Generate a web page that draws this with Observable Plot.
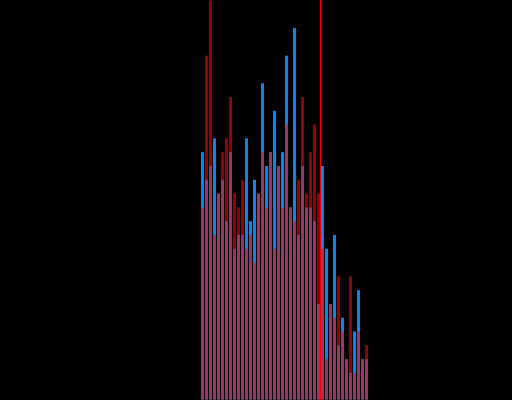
<!DOCTYPE html>
<html>
<head>
<meta charset="utf-8">
<script src="https://cdn.jsdelivr.net/npm/d3@7"></script>
<script src="https://cdn.jsdelivr.net/npm/@observablehq/plot@0.6"></script>
<style>
  html, body { margin: 0; padding: 0; background: #000; overflow: hidden; }
  #chart svg { display: block; }
</style>
</head>
<body>
<div id="chart"></div>
<script>
// bin index (left edge) of each histogram bar
const bins = [0, 1, 2, 3, 4, 5, 6, 7, 8, 9, 10, 11, 12, 13, 14, 15, 16, 17, 18, 19, 20,
              21, 22, 23, 24, 25, 26, 27, 28, 29, 30, 31, 32, 33, 34, 35, 36, 37, 38, 39, 40, 41];
// counts per bin, blue series
const blueCounts = [18, 16, 17, 19, 15, 16, 13, 18, 11, 12, 12, 19, 13, 16, 15, 23, 17, 18, 21, 17, 18,
                    25, 14, 27, 12, 17, 14, 14, 13, 7, 17, 11, 7, 12, 4, 6, 3, 2, 5, 8, 3, 3];
// counts per bin, red series
const redCounts = [14, 25, 29, 12, 15, 18, 19, 22, 15, 14, 16, 11, 12, 10, 15, 18, 14, 18, 11, 17, 14,
                   20, 14, 13, 16, 22, 15, 18, 20, 15, 11, 3, 7, 6, 9, 5, 3, 9, 2, 5, 3, 4];
// threshold marker
const threshold = [29.875];

const blue = bins.map((b, i) => ({x1: b, x2: b + 1, count: blueCounts[i]}));
const red = bins.map((b, i) => ({x1: b, x2: b + 1, count: redCounts[i]}));

const plot = Plot.plot({
  width: 512,
  height: 400,
  marginTop: 0,
  marginRight: 0,
  marginBottom: 0,
  marginLeft: 0,
  style: {background: "#000"},
  x: {domain: [-50.125, 77.875], axis: null},
  y: {domain: [0, 29], axis: null},
  marks: [
    Plot.rectY(blue, {x1: "x1", x2: "x2", y: "count", fill: "#0088ff", inset: 0.5}),
    Plot.rectY(red, {x1: "x1", x2: "x2", y: "count", fill: "#ff0000", fillOpacity: 0.6, inset: 0.5}),
    Plot.ruleX(threshold, {stroke: "#ff0000", strokeWidth: 1})
  ]
});
document.getElementById("chart").appendChild(plot);
</script>
</body>
</html>
